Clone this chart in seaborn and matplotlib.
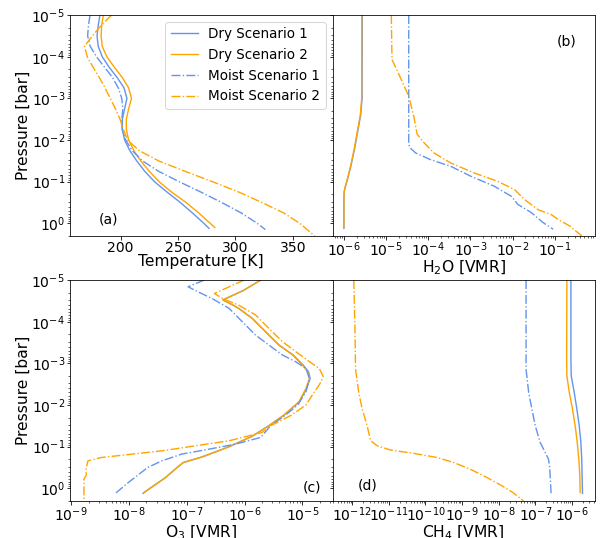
import numpy as np
import matplotlib
matplotlib.use("Agg")
import matplotlib.pyplot as plt
from matplotlib.ticker import LogLocator
import seaborn as sns

BLUE = "cornflowerblue"
ORANGE = "orange"

# --- (a) temperature profiles ---
p_grid_a = [1e-5, 1.78e-5, 3.16e-5, 5.62e-5, 1e-4, 1.78e-4, 3.16e-4, 5.62e-4, 1e-3, 1.78e-3,
            3.16e-3, 5.62e-3, 1e-2, 1.78e-2, 3.16e-2, 5.62e-2, 0.1, 0.178, 0.316, 0.562, 1.0]
p_dry1_a = p_grid_a + [1.32]
t_dry1 = [182, 180.5, 179.5, 180.5, 184, 190, 197, 203, 205.5, 203.5, 201.5, 201.5, 203.5,
          208, 214, 221, 229.5, 240.5, 252, 262.5, 272.5, 277]
p_dry2_a = p_grid_a + [1.26]
t_dry2 = [185, 183.5, 183, 184, 188, 194.5, 201.5, 207, 209.5, 207, 205, 205, 207,
          211.5, 217.5, 225, 233.5, 244.5, 257, 268, 278, 282]
p_moist1_a = p_grid_a + [1.41]
t_moist1 = [173.4, 172, 171.3, 173.5, 179, 186, 193, 198, 201, 202, 201, 201.5, 204.5,
            210, 219, 233, 251, 270, 288, 305, 319, 326]
p_moist2_a = p_grid_a + [2.0]
t_moist2 = [192, 183, 175.5, 168.5, 171, 176, 181.5, 186.5, 191, 195.5, 199.5, 202.5, 206,
            216, 233, 256, 280, 303, 323, 342, 356, 369]

# --- (b) H2O ---
p_dry_b = [1e-5, 1e-3, 2.5e-3, 6.3e-3, 1.58e-2, 4.27e-2, 8.9e-2, 0.129, 0.17, 0.25, 1.0]
p_dry1_b = p_dry_b + [1.32]
h2o_dry1 = [2.72e-6, 2.7e-6, 2.5e-6, 2.12e-6, 1.8e-6, 1.46e-6, 1.21e-6, 1.09e-6, 1.02e-6, 1.0e-6, 1.0e-6, 1.0e-6]
p_dry2_b = p_dry_b + [1.26]
h2o_dry2 = [2.65e-6, 2.64e-6, 2.45e-6, 2.08e-6, 1.77e-6, 1.44e-6, 1.2e-6, 1.08e-6, 1.02e-6, 1.0e-6, 1.0e-6, 1.0e-6]
p_moist1_b = [1e-5, 1.29e-2, 1.58e-2, 2.04e-2, 2.95e-2, 4.27e-2, 7.4e-2, 0.129, 0.224,
              0.35, 0.55, 0.95, 1.38]
h2o_moist1 = [3.44e-5, 3.44e-5, 3.8e-5, 5e-5, 1.12e-4, 3.4e-4, 1.02e-3, 3.7e-3, 9.3e-3,
              1.32e-2, 2.75e-2, 5.2e-2, 9.1e-2]
p_moist2_b = [1e-5, 1.17e-4, 3.2e-4, 8.9e-4, 2.7e-3, 7.2e-3, 1.15e-2, 2.04e-2, 3.55e-2,
              6.2e-2, 9.8e-2, 0.155, 0.27, 0.47, 0.62, 0.81, 1.17, 2.0]
h2o_moist2 = [1.33e-5, 1.38e-5, 2.19e-5, 3.44e-5, 4.53e-5, 5.44e-5, 7.85e-5, 1.36e-4, 3.4e-4,
              1.23e-3, 4.43e-3, 1.11e-2, 1.92e-2, 4.0e-2, 8.3e-2, 0.12, 0.229, 0.434]

# --- (c) O3 ---
p_dry_c = [1e-5, 1.78e-5, 3.0e-5, 4.0e-5, 4.8e-5, 8.3e-5, 1.74e-4, 3.6e-4, 6.3e-4, 1.1e-3,
           1.58e-3, 2.3e-3, 4.0e-3, 8.3e-3, 1.78e-2, 3.16e-2, 5.62e-2, 0.1, 0.132, 0.178,
           0.24, 0.316, 0.562, 1.0]
p_dry1_c = p_dry_c + [1.32]
o3_dry1 = [1.9e-6, 9.5e-7, 4.2e-7, 6.3e-7, 7.9e-7, 1.35e-6, 2.3e-6, 3.9e-6, 6.9e-6, 1.03e-5,
           1.27e-5, 1.36e-5, 1.18e-5, 8.9e-6, 4.7e-6, 2.6e-6, 1.35e-6, 5.4e-7, 3.2e-7, 1.8e-7,
           8.7e-8, 6.8e-8, 4.2e-8, 2.3e-8, 1.75e-8]
p_dry2_c = p_dry_c + [1.26]
o3_dry2 = [1.9e-6, 9.5e-7, 4.2e-7, 6.3e-7, 7.9e-7, 1.35e-6, 2.3e-6, 3.9e-6, 6.8e-6, 1.0e-5,
           1.23e-5, 1.32e-5, 1.15e-5, 8.7e-6, 4.7e-6, 2.6e-6, 1.35e-6, 5.4e-7, 3.2e-7, 1.8e-7,
           8.7e-8, 6.8e-8, 4.2e-8, 2.3e-8, 1.8e-8]
p_moist1_c = [1e-5, 1.45e-5, 2e-5, 2.75e-5, 4.8e-5, 1e-4, 2.1e-4, 3.6e-4, 6.3e-4, 9.1e-4,
              1.32e-3, 2.3e-3, 4.8e-3, 1e-2, 1.78e-2, 3.16e-2, 6.0e-2, 8.7e-2, 0.115, 0.151,
              0.219, 0.316, 0.72, 1.38]
o3_moist1 = [2.0e-7, 1.05e-7, 1.66e-7, 2.7e-7, 5.4e-7, 9.1e-7, 1.55e-6, 2.6e-6, 4.5e-6, 7.6e-6,
             1.15e-5, 1.32e-5, 1.15e-5, 8.3e-6, 5.0e-6, 2.8e-6, 1.9e-6, 6.9e-7, 2.4e-7, 8.1e-8,
             3.7e-8, 2.1e-8, 9.8e-9, 5.6e-9]
p_moist2_c = [1e-5, 2.1e-5, 2.8e-5, 4e-5, 6.9e-5, 1.45e-4, 3.0e-4, 5.2e-4, 9.1e-4, 1.32e-3,
              2.1e-3, 3.3e-3, 5.75e-3, 1e-2, 1.78e-2, 3.16e-2, 4.57e-2, 7.2e-2, 0.126, 0.182,
              0.219, 0.316, 0.48, 0.6, 1.0, 2.0]
o3_moist2 = [9.8e-7, 3.0e-7, 4.2e-7, 7.9e-7, 1.55e-6, 2.63e-6, 4.5e-6, 7.6e-6, 1.32e-5, 1.95e-5,
             2.3e-5, 1.95e-5, 1.48e-5, 1.15e-5, 6.3e-6, 2.8e-6, 2.0e-6, 5.4e-7, 3.7e-8, 3.3e-9,
             1.95e-9, 1.82e-9, 1.82e-9, 1.66e-9, 1.66e-9, 1.66e-9]

# --- (d) CH4 ---
p_dry1_d = [1e-5, 7.9e-4, 2e-3, 5e-3, 1.26e-2, 3.16e-2, 7.9e-2, 0.2, 0.5, 1.32]
ch4_dry1 = [9.4e-7, 9.4e-7, 9.6e-7, 1.16e-6, 1.37e-6, 1.59e-6, 1.76e-6, 1.86e-6, 1.9e-6, 1.95e-6]
p_dry2_d = [1e-5, 7.9e-4, 2e-3, 5e-3, 1.26e-2, 3.16e-2, 7.9e-2, 0.2, 0.5, 1.26]
ch4_dry2 = [7.3e-7, 7.2e-7, 7.3e-7, 8.5e-7, 1.04e-6, 1.23e-6, 1.4e-6, 1.55e-6, 1.65e-6, 1.68e-6]
p_moist1_d = [1e-5, 1.38e-3, 5e-3, 1.26e-2, 3.16e-2, 7.9e-2, 0.138, 0.2, 0.29, 0.5, 1.32]
ch4_moist1 = [5.6e-8, 5.6e-8, 6.6e-8, 8.1e-8, 1e-7, 1.36e-7, 1.87e-7, 2.3e-7, 2.45e-7, 2.55e-7, 2.7e-7]
p_moist2_d = [1e-5, 1.26e-4, 1.38e-3, 5e-3, 1.26e-2, 3.16e-2, 7.2e-2, 9.5e-2, 0.12, 0.145,
              0.182, 0.24, 0.35, 0.55, 0.87, 1.26, 2.0]
ch4_moist2 = [1.1e-12, 1.18e-12, 1.23e-12, 1.5e-12, 1.87e-12, 2.55e-12, 3.16e-12, 4.8e-12,
              1.1e-11, 4.8e-11, 2.1e-10, 5.9e-10, 1.7e-9, 4.8e-9, 1.23e-8, 2.45e-8, 4.8e-8]

labels = ["Dry Scenario 1", "Dry Scenario 2", "Moist Scenario 1", "Moist Scenario 2"]
styles = [(BLUE, "-"), (ORANGE, "-"), (BLUE, "-."), (ORANGE, "-.")]

panels = [
    ([(t_dry1, p_dry1_a), (t_dry2, p_dry2_a), (t_moist1, p_moist1_a), (t_moist2, p_moist2_a)],
     "Temperature [K]", False, (156, 384.5), "(a)", (0.108, 0.075)),
    ([(h2o_dry1, p_dry1_b), (h2o_dry2, p_dry2_b), (h2o_moist1, p_moist1_b), (h2o_moist2, p_moist2_b)],
     "H$_2$O [VMR]", True, (10**-6.27, 10**-0.05), "(b)", (0.854, 0.881)),
    ([(o3_dry1, p_dry1_c), (o3_dry2, p_dry2_c), (o3_moist1, p_moist1_c), (o3_moist2, p_moist2_c)],
     "O$_3$ [VMR]", True, (10**-9.02, 10**-4.48), "(c)", (0.888, 0.06)),
    ([(ch4_dry1, p_dry1_d), (ch4_dry2, p_dry2_d), (ch4_moist1, p_moist1_d), (ch4_moist2, p_moist2_d)],
     "CH$_4$ [VMR]", True, (10**-12.54, 10**-5.37), "(d)", (0.096, 0.068)),
]

# reference looks like a 72 dpi render, so work in that unit
plt.rcParams.update({"font.size": 14, "xtick.labelsize": 14, "ytick.labelsize": 14,
                     "ytick.major.pad": 1.5, "xtick.major.pad": 1.5})

fig, axes = plt.subplots(2, 2, figsize=(604 / 72, 538 / 72), dpi=72, sharey=True)
fig.subplots_adjust(left=0.116, right=0.985, top=0.972, bottom=0.069, wspace=0, hspace=0.2)

for ax, (series, xlabel, logx, xlim, tag, tagpos) in zip(axes.flat, panels):
    ax.set_yscale("log")
    if logx:
        ax.set_xscale("log")
    for (vals, pres), (col, ls), lab in zip(series, styles, labels):
        sns.lineplot(x=vals, y=pres, orient="y", color=col, linestyle=ls,
                     linewidth=1.4, label=lab, ax=ax)
    if logx:
        ax.xaxis.set_major_locator(LogLocator(base=10, numticks=30))
        ax.xaxis.set_minor_locator(LogLocator(base=10, subs=np.arange(2, 10), numticks=30))
    ax.set_xlim(*xlim)
    ax.set_xlabel(xlabel, fontsize=15.5, labelpad=-1)
    ax.text(tagpos[0], tagpos[1], tag, transform=ax.transAxes, ha="left", va="center", fontsize=14)
    if ax.get_legend() is not None:
        ax.get_legend().remove()

axes[0, 0].yaxis.set_major_locator(LogLocator(base=10, numticks=30))
axes[0, 0].yaxis.set_minor_locator(LogLocator(base=10, subs=np.arange(2, 10), numticks=30))
axes[0, 0].set_ylim(2.0, 1e-5)
for ax in axes[:, 0]:
    ax.set_ylabel("Pressure [bar]", fontsize=15.5, labelpad=1)

axes[0, 0].legend(loc="upper right", fontsize=13.5)

fig.savefig("out.png", dpi=72)
